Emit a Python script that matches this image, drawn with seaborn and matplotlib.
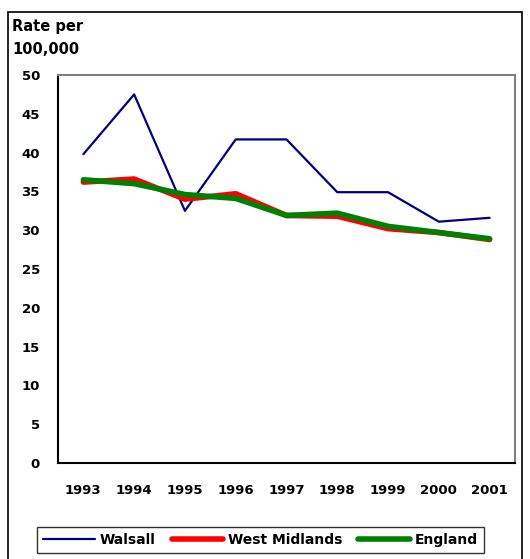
import pandas as pd
import numpy as np
import matplotlib.pyplot as plt
import seaborn as sns
from matplotlib.patches import Rectangle

years = ['1993', '1994', '1995', '1996', '1997', '1998', '1999', '2000', '2001']
walsall = [39.8, 47.5, 32.5, 41.7, 41.7, 34.9, 34.9, 31.1, 31.6]
west_midlands = [36.2, 36.6, 34.0, 34.7, 31.9, 31.8, 30.2, 29.7, 28.8]
england = [36.5, 36.0, 34.6, 34.1, 31.9, 32.2, 30.5, 29.7, 28.9]
series_names = ['Walsall', 'West Midlands', 'England']

df = pd.DataFrame({
    'year': years * 3,
    'rate': walsall + west_midlands + england,
    'area': [n for n in series_names for _ in years],
})
df['pos'] = df['year'].map({y: i for i, y in enumerate(years)})

sns.set_style('white')
plt.rcParams['font.family'] = ['DejaVu Sans']
plt.rcParams['font.weight'] = 'bold'
plt.rcParams['text.color'] = 'black'
plt.rcParams['xtick.color'] = 'black'
plt.rcParams['ytick.color'] = 'black'
plt.rcParams['axes.labelcolor'] = 'black'

fig = plt.figure(figsize=(5.30, 5.59), dpi=100)
ax = fig.add_axes([0.1094, 0.1717, 0.8623, 0.6941])

palette = {'Walsall': '#000080', 'West Midlands': '#ff0000', 'England': '#008000'}
sizes = {'Walsall': 1.6, 'West Midlands': 4.0, 'England': 4.0}
sns.lineplot(data=df, x='pos', y='rate', hue='area', size='area',
             palette=palette, sizes=sizes, hue_order=series_names,
             size_order=series_names, legend=False, ax=ax)

ax.set_xlim(-0.5, len(years) - 0.5)
ax.set_ylim(0, 50)
ax.set_yticks(np.arange(0, 51, 5))
ax.set_xticks(range(len(years)))
ax.set_xticklabels(years)
ax.set_xticks(np.arange(-0.5, len(years), 1), minor=True)
ax.tick_params(axis='x', which='major', length=0, pad=15, labelsize=9.5, labelcolor='black')
ax.tick_params(axis='x', which='minor', length=5, width=1, color='black', direction='out')
ax.tick_params(axis='y', length=5, width=1, color='black', direction='out', labelsize=9.5,
               pad=8, labelcolor='black')
for lab in ax.get_xticklabels() + ax.get_yticklabels():
    lab.set_fontweight('bold')
ax.set_xlabel('')
ax.set_ylabel('')
ax.spines['left'].set_color('black')
ax.spines['bottom'].set_color('black')
ax.spines['top'].set_color('#808080')
ax.spines['right'].set_color('#808080')
for s in ax.spines.values():
    s.set_linewidth(1.5)
    s.set_visible(True)

fig.text(12 / 530, 1 - 27 / 559, 'Rate per', fontsize=10.5, fontweight='bold', va='center', color='black')
fig.text(12 / 530, 1 - 50 / 559, '100,000', fontsize=10.5, fontweight='bold', va='center', color='black')

# outer chart border
fig.patches.append(Rectangle((8 / 530, -0.05), 514 / 530, 1 - 12 / 559 + 0.05,
                             transform=fig.transFigure, fill=False,
                             edgecolor='black', linewidth=1.2))

handles = [plt.Line2D([], [], color=palette[n], linewidth=sizes[n]) for n in series_names]
leg = fig.legend(handles, series_names, loc='center',
                 bbox_to_anchor=(260.5 / 530, 1 - 540 / 559), ncol=3,
                 frameon=True, fancybox=False, handlelength=3.7,
                 handletextpad=0.35, columnspacing=1.15, borderpad=0.45,
                 prop={'weight': 'bold', 'size': 10})
leg.get_frame().set_edgecolor('black')
leg.get_frame().set_linewidth(1.0)
for t in leg.get_texts():
    t.set_color('black')

fig.savefig('out.png', dpi=100)
